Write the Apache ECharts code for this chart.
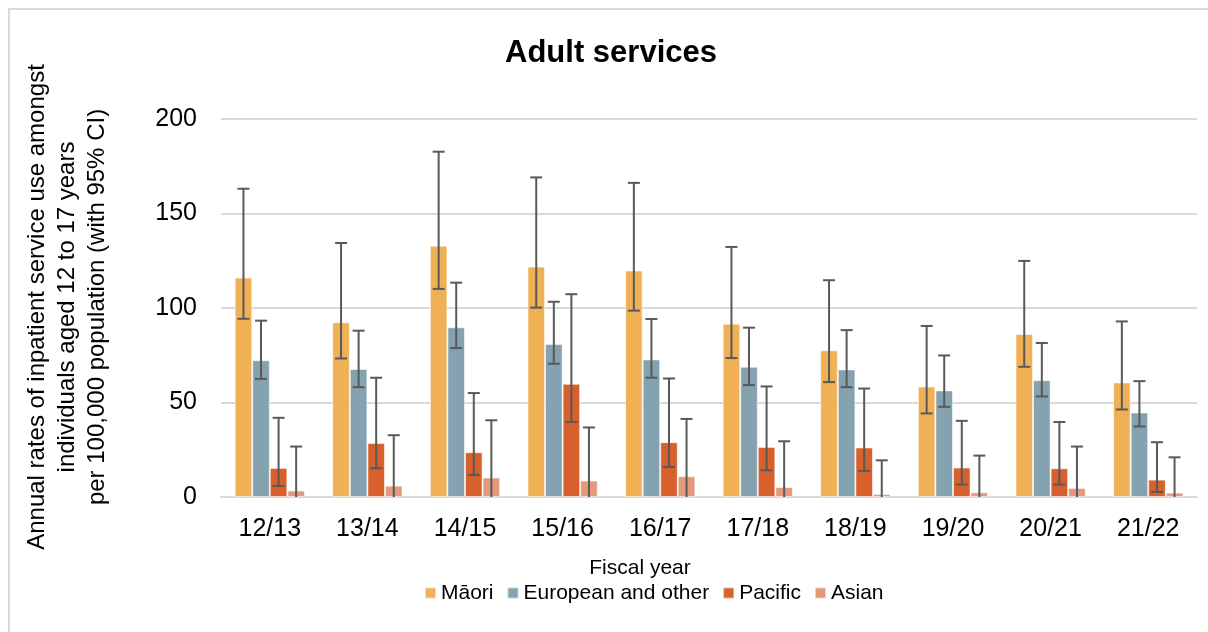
<!DOCTYPE html>
<html>
<head>
<meta charset="utf-8">
<title>Adult services</title>
<script src="https://cdn.jsdelivr.net/npm/echarts@6/dist/echarts.min.js"></script>
<style>
  html, body { margin: 0; padding: 0; background: #ffffff; }
  #chart { width: 1208px; height: 632px; }
</style>
</head>
<body>
<div id="chart"></div>
<script>
// Fiscal years on the category axis
const years = ['12/13', '13/14', '14/15', '15/16', '16/17', '17/18', '18/19', '19/20', '20/21', '21/22'];

// Rates per 100,000 with 95% confidence limits, by ethnic group
const maori        = [116.1, 92.4, 133.0, 121.9, 119.8, 91.7, 77.6, 58.5, 86.2, 60.6];
const maoriLow     = [94.3, 73.3, 110.1, 100.2, 98.6, 73.5, 60.8, 44.2, 68.9, 46.3];
const maoriHigh    = [163.1, 134.4, 182.7, 169.1, 166.2, 132.3, 114.7, 90.5, 124.9, 92.9];

const european     = [72.4, 67.7, 89.8, 80.9, 72.8, 68.9, 67.5, 56.4, 61.8, 44.7];
const europeanLow  = [62.5, 58.1, 78.8, 70.5, 63.1, 59.2, 58.1, 47.7, 53.2, 37.3];
const europeanHigh = [93.3, 88.0, 113.4, 103.3, 94.2, 89.6, 88.3, 74.9, 81.5, 61.3];

const pacific      = [15.4, 28.6, 23.7, 59.9, 29.0, 26.5, 26.2, 15.6, 15.2, 9.2];
const pacificLow   = [5.8, 15.2, 11.7, 39.7, 15.9, 14.1, 13.8, 6.6, 6.6, 2.7];
const pacificHigh  = [41.9, 63.1, 55.0, 107.3, 62.7, 58.5, 57.4, 40.3, 39.7, 29.0];

const asian        = [3.4, 6.0, 10.3, 8.7, 11.0, 5.3, 1.6, 2.5, 4.8, 2.3];
const asianLow     = [0, 0, 0, 0, 0, 0, 0, 0, 0, 0];
const asianHigh    = [26.7, 32.7, 40.6, 36.8, 41.3, 29.5, 19.4, 21.9, 26.7, 21.0];

// Y axis ticks
const yTicks = [0, 50, 100, 150, 200];

const FONT = "'Liberation Sans', Arial, Helvetica, sans-serif";
const CATEGORY_GAP = 0.28;
const GROUPS = [
  { name: 'Māori', color: '#EFB056', values: maori, low: maoriLow, high: maoriHigh },
  { name: 'European and other', color: '#84A2AF', values: european, low: europeanLow, high: europeanHigh },
  { name: 'Pacific', color: '#D8602D', values: pacific, low: pacificLow, high: pacificHigh },
  { name: 'Asian', color: '#E3997B', values: asian, low: asianLow, high: asianHigh }
];

const chart = echarts.init(document.getElementById('chart'), null, { renderer: 'canvas' });

// Error bar drawn at the centre of the k-th bar inside a category band
function errorBarRenderer(k, n) {
  return function (params, api) {
    const idx = api.value(0);
    const lo = api.value(1);
    const hi = api.value(2);
    const top = api.coord([idx, hi]);
    const bottom = api.coord([idx, lo]);
    const band = api.size([1, 0])[0];
    const barW = band * (1 - CATEGORY_GAP) / n;
    const x = top[0] + (k - (n - 1) / 2) * barW;
    const cap = 6;
    const style = { stroke: '#595959', lineWidth: 2 };
    const children = [
      { type: 'line', shape: { x1: x, y1: top[1], x2: x, y2: bottom[1] }, style: style },
      { type: 'line', shape: { x1: x - cap, y1: top[1], x2: x + cap, y2: top[1] }, style: style }
    ];
    if (lo > 0) {
      children.push({ type: 'line', shape: { x1: x - cap, y1: bottom[1], x2: x + cap, y2: bottom[1] }, style: style });
    }
    return { type: 'group', children: children };
  };
}

const barSeries = GROUPS.map(g => ({
  name: g.name,
  type: 'bar',
  data: g.values,
  barGap: '0%',
  barCategoryGap: (CATEGORY_GAP * 100) + '%',
  itemStyle: { color: g.color, borderColor: 'rgba(255,255,255,0.55)', borderWidth: 1 },
  emphasis: { disabled: true },
  z: 2
}));

const errorSeries = GROUPS.map((g, k) => ({
  name: g.name + ' 95% CI',
  type: 'custom',
  renderItem: errorBarRenderer(k, GROUPS.length),
  data: years.map((_, i) => [i, g.low[i], g.high[i]]),
  encode: { x: 0, y: [1, 2] },
  z: 5,
  silent: true
}));

const option = {
  backgroundColor: '#ffffff',
  animation: false,
  textStyle: { fontFamily: FONT },
  grid: { left: 221, right: 11, top: 119, bottom: 135 },
  legend: {
    data: GROUPS.map(g => g.name),
    left: 424,
    top: 582,
    padding: 0,
    itemWidth: 11,
    itemHeight: 11,
    itemGap: 13,
    icon: 'rect',
    selectedMode: false,
    textStyle: { fontFamily: FONT, fontSize: 21, color: '#000000', lineHeight: 22 }
  },
  xAxis: {
    type: 'category',
    data: years,
    axisLine: { show: true, lineStyle: { color: '#D9D9D9', width: 2 } },
    axisTick: { show: false },
    axisLabel: { color: '#000000', fontSize: 25, fontFamily: FONT, margin: 20 }
  },
  yAxis: {
    type: 'value',
    min: yTicks[0],
    max: yTicks[yTicks.length - 1],
    interval: yTicks[1] - yTicks[0],
    axisLine: { show: false },
    axisTick: { show: false },
    splitLine: { show: true, lineStyle: { color: '#D9D9D9', width: 2 } },
    axisLabel: { color: '#000000', fontSize: 25, fontFamily: FONT, margin: 24 }
  },
  graphic: [
    {
      type: 'rect',
      shape: { x: 9, y: 9, width: 1400, height: 800 },
      style: { fill: 'none', stroke: '#D9D9D9', lineWidth: 2 },
      silent: true,
      z: -1
    },
    {
      type: 'text',
      x: 611, y: 53,
      style: {
        text: 'Adult services',
        font: 'bold 31px ' + FONT,
        fill: '#000000',
        textAlign: 'center',
        textVerticalAlign: 'middle'
      }
    },
    {
      type: 'text',
      x: 67, y: 307,
      rotation: Math.PI / 2,
      style: {
        text: 'Annual rates of inpatient service use amongst\nindividuals aged 12 to 17 years\nper 100,000 population (with 95% CI)',
        font: '24px ' + FONT,
        fill: '#000000',
        textAlign: 'center',
        textVerticalAlign: 'middle',
        lineHeight: 30
      }
    },
    {
      type: 'text',
      x: 640, y: 568,
      style: {
        text: 'Fiscal year',
        font: '21px ' + FONT,
        fill: '#000000',
        textAlign: 'center',
        textVerticalAlign: 'middle'
      }
    }
  ],
  series: barSeries.concat(errorSeries)
};

chart.setOption(option);
</script>
</body>
</html>
